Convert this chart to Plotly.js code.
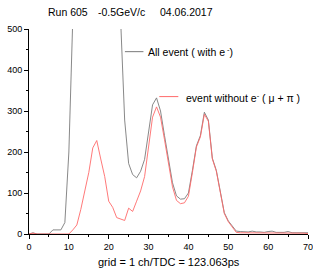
<!DOCTYPE html>
<html>
<head>
<meta charset="utf-8">
<script src="https://cdn.plot.ly/plotly-3.0.1.min.js"></script>
<style>html,body{margin:0;padding:0;background:#fff;}#chart{width:313px;height:268px;}</style>
</head>
<body>
<div id="chart"></div>
<script>
// TDC channel numbers
const channels = [];
for (let i = 0; i <= 70; i++) channels.push(i);

// All events (with e-), gray
const allEvents = [0,3,0,0,0,0,10,10,10,28,
  200,530,900,1300,1700,2000,2200,2300,2100,1800,
  1400,1000,750,520,278,172,145,137,153,182,
  255,315,332,300,240,185,125,93,85,86,
  100,155,215,240,297,278,185,155,108,52,
  32,19,7,6,6,5,7,5,5,4,
  6,7,4,4,4,6,3,3,3,3,3];

// Events without e- (mu + pi), red
const noElectron = [0,2,0,0,0,0,0,0,0,0,
  0,10,22,60,105,150,210,228,183,140,
  80,65,40,37,33,63,55,80,105,140,
  210,285,310,285,230,170,115,82,74,76,
  92,150,212,237,292,275,183,153,106,50,
  30,17,4,3,3,3,2,3,3,2,
  3,2,2,2,3,2,2,2,2,2,1];

const headerTexts = ["Run 605", "-0.5GeV/c", "04.06.2017"];
const seriesLabels = ["All event ( with e<sup> -</sup>)", "event without e<sup>-</sup> ( \u03bc + \u03c0 )"];
const xLabel = "grid = 1 ch/TDC = 123.063ps";

const L = 29.3, R = 307.7, T = 29, B = 234.3, W = 313, H = 268;
const px = x => (x - L) / (R - L);
const py = y => (B - y) / (B - T);

const font = {family: "Liberation Sans, Arial, sans-serif", size: 10.5, color: "#000"};

const traces = [
  {x: channels, y: allEvents, type: "scatter", mode: "lines",
   line: {color: "#7a7a7a", width: 0.9}, hoverinfo: "skip"},
  {x: channels, y: noElectron, type: "scatter", mode: "lines",
   line: {color: "#ff6a6a", width: 0.9}, hoverinfo: "skip"}
];

const ann = (x, y, text, size) => ({xref: "paper", yref: "paper", x: px(x), y: py(y), text: text,
  showarrow: false, xanchor: "left", yanchor: "middle", font: Object.assign({}, font, {size: size || 10.5}), borderpad: 0});

const layout = {
  width: W, height: H,
  margin: {l: L, r: W - R, t: T, b: H - B, pad: 0},
  paper_bgcolor: "#fff", plot_bgcolor: "#fff",
  showlegend: false,
  font: font,
  xaxis: {range: [0, 70], dtick: 10, tick0: 0, ticks: "outside", ticklen: 4, tickwidth: 1, tickcolor: "#000",
    minor: {dtick: 5, ticks: "outside", ticklen: 2, tickcolor: "#000"},
    showline: true, linecolor: "#000", linewidth: 1, showgrid: false, zeroline: false,
    ticklabeloverflow: "allow", automargin: false,
    tickfont: {family: font.family, size: 9, color: "#000"}, fixedrange: true},
  yaxis: {range: [0, 500], dtick: 100, tick0: 0, ticks: "outside", ticklen: 4, tickwidth: 1, tickcolor: "#000",
    minor: {dtick: 50, ticks: "outside", ticklen: 2, tickcolor: "#000"},
    showline: true, linecolor: "#000", linewidth: 1, showgrid: false, zeroline: false,
    automargin: false,
    tickfont: {family: font.family, size: 9, color: "#000"}, fixedrange: true},
  annotations: [
    ann(47, 12, headerTexts[0]),
    ann(97, 12, headerTexts[1]),
    ann(159, 12, headerTexts[2]),
    ann(147.5, 52, seriesLabels[0]),
    ann(185, 98, seriesLabels[1]),
    ann(97.5, 262, xLabel, 11)
  ],
  shapes: [
    {type: "line", xref: "paper", yref: "paper", x0: px(125), x1: px(143.5), y0: py(51.7), y1: py(51.7),
     line: {color: "#7a7a7a", width: 1}},
    {type: "line", xref: "paper", yref: "paper", x0: px(159.3), x1: px(178.3), y0: py(96.7), y1: py(96.7),
     line: {color: "#ff6a6a", width: 1}}
  ]
};

Plotly.newPlot("chart", traces, layout, {staticPlot: true, displayModeBar: false});
</script>
</body>
</html>
